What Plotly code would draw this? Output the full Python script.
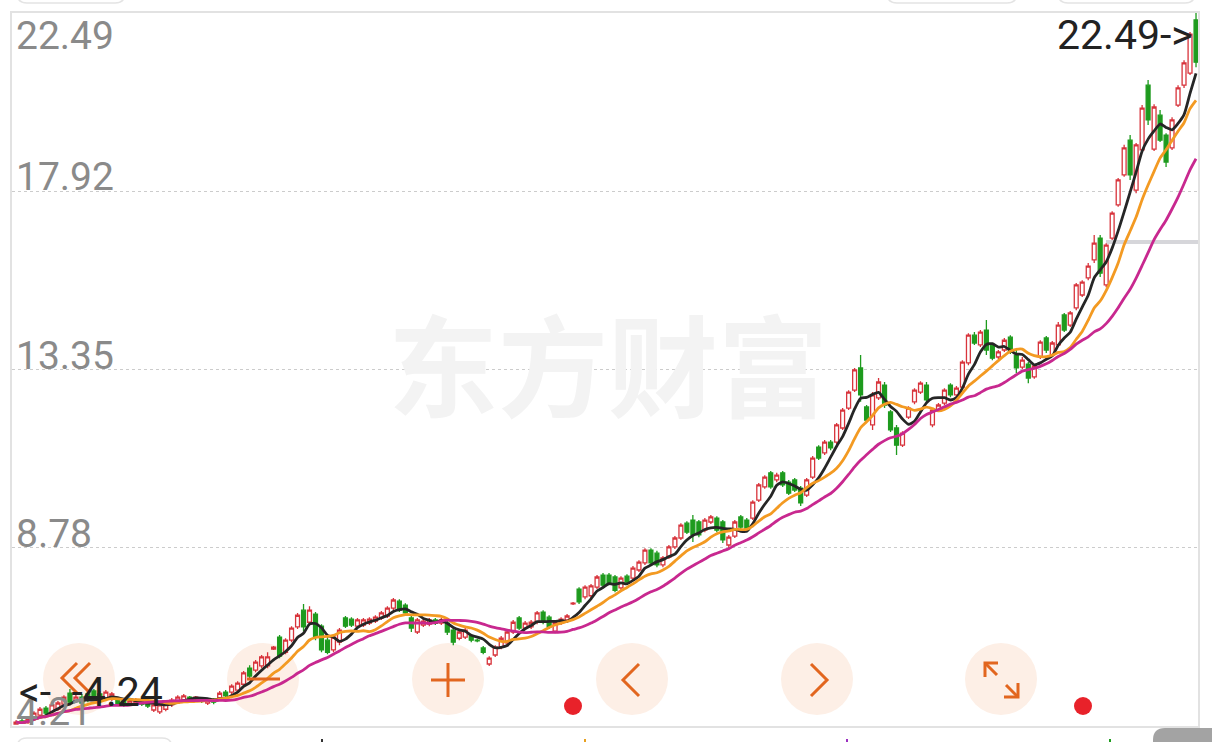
import plotly.graph_objects as go
import pandas as pd

# ---------------- data ----------------
open_ = [
4.26,4.34,4.31,4.39,4.49,4.67,4.57,4.64,4.77,5.05,
4.85,4.95,5.03,5.11,5.03,4.93,4.90,4.90,4.87,4.80,
4.80,4.87,4.82,4.62,4.57,4.64,4.75,4.85,4.87,4.95,
4.90,4.93,4.80,4.90,4.93,5.08,5.08,5.13,5.28,5.69,
5.64,5.75,5.75,6.18,6.49,6.10,6.41,6.75,7.18,6.87,
7.08,6.77,6.41,6.16,6.36,6.98,6.95,6.77,6.80,6.85,
6.90,6.98,7.03,7.23,7.41,7.31,6.98,6.62,6.80,6.82,
6.93,6.85,6.85,6.67,6.46,6.49,6.52,6.41,6.21,5.80,
6.03,6.23,6.34,6.62,6.98,6.72,6.75,6.87,7.13,7.00,
6.64,6.85,6.93,7.34,7.72,7.52,7.55,7.77,8.08,8.08,
8.03,7.75,8.05,8.00,8.21,8.39,8.72,8.64,8.34,8.54,
8.80,9.03,9.41,9.49,9.44,9.23,9.44,9.54,9.44,8.85,
9.08,9.57,9.49,9.54,10.00,10.34,10.70,10.52,10.70,10.46,
10.52,10.31,10.13,10.59,11.36,11.21,11.49,11.49,11.85,12.36,
12.82,13.39,12.39,11.93,12.62,12.95,12.26,11.85,11.41,12.13,
12.52,12.77,12.95,11.93,12.31,12.49,12.95,12.70,12.90,13.52,
14.23,13.98,14.36,13.98,13.67,13.85,14.18,13.72,13.41,13.49,
13.16,13.67,14.16,13.72,13.98,14.75,14.49,14.93,15.26,15.70,
16.16,16.72,15.52,16.72,17.57,18.34,19.23,17.95,18.98,20.64,
19.00,19.87,19.36,19.03,20.13,20.64,20.95,22.31]

high = [
4.36,4.39,4.41,4.59,4.70,4.72,4.80,4.85,5.00,5.16,
5.03,5.03,5.08,5.16,5.11,5.13,5.08,4.95,4.93,4.93,
4.93,4.93,4.87,4.80,4.80,4.82,4.93,5.00,5.03,4.98,
4.98,4.95,4.93,4.93,5.11,5.13,5.28,5.36,5.62,5.77,
5.90,6.03,6.10,6.26,6.54,6.46,6.77,7.11,7.34,7.28,
7.13,6.82,6.49,6.54,6.72,7.03,7.00,6.98,6.98,7.00,
7.05,7.16,7.28,7.49,7.46,7.36,7.05,6.98,6.95,6.98,
6.98,6.98,6.90,6.72,6.67,6.72,6.57,6.44,6.26,6.00,
6.28,6.52,6.67,6.93,7.03,6.90,6.93,7.16,7.18,7.05,
6.93,7.00,7.08,7.39,7.77,7.82,7.85,8.08,8.13,8.13,
8.08,8.05,8.10,8.31,8.46,8.77,8.77,8.70,8.57,8.85,
9.08,9.41,9.46,9.62,9.49,9.54,9.62,9.59,9.49,9.11,
9.49,9.62,9.54,10.00,10.44,10.64,10.75,10.70,10.75,10.52,
10.57,10.36,10.57,11.13,11.41,11.54,11.54,11.98,12.36,12.82,
13.39,13.72,12.44,12.77,13.13,13.03,12.31,11.93,11.77,12.41,
12.87,13.05,13.03,12.36,12.49,12.87,13.00,12.93,13.59,14.28,
14.31,14.36,14.62,14.03,13.85,14.16,14.23,13.85,13.67,13.54,
13.49,14.10,14.21,14.08,14.57,14.80,14.85,15.57,15.64,16.08,
16.80,16.80,16.59,17.41,18.26,19.11,19.36,19.16,20.13,20.77,
20.15,20.00,19.41,19.82,20.64,21.28,22.00,22.49]

low = [
4.24,4.26,4.26,4.34,4.44,4.49,4.52,4.59,4.72,4.77,
4.80,4.77,4.82,4.87,4.82,4.87,4.85,4.72,4.70,4.75,
4.77,4.72,4.67,4.57,4.52,4.59,4.70,4.80,4.82,4.85,
4.85,4.80,4.75,4.77,4.87,4.93,5.03,5.08,5.23,5.44,
5.59,5.69,5.69,6.16,5.95,6.05,6.36,6.70,6.64,6.82,
6.41,6.10,6.05,6.10,6.28,6.72,6.75,6.72,6.75,6.80,
6.85,6.93,6.98,7.18,7.13,7.05,6.62,6.57,6.75,6.77,
6.80,6.80,6.54,6.28,6.41,6.44,6.36,6.36,6.05,5.75,
5.98,6.18,6.28,6.57,6.67,6.67,6.70,6.82,6.82,6.70,
6.59,6.80,6.87,7.31,7.34,7.46,7.49,7.72,7.77,7.82,
7.64,7.69,7.85,7.95,8.16,8.34,8.34,8.28,8.28,8.49,
8.75,8.98,9.13,8.93,9.05,9.18,9.39,9.18,8.90,8.77,
9.03,9.26,9.18,9.49,9.95,10.29,10.29,10.46,10.34,10.13,
10.21,9.85,10.08,10.54,11.03,11.16,11.28,11.44,11.80,12.31,
12.77,12.52,12.00,11.80,12.57,12.36,11.75,11.16,11.36,12.08,
12.46,12.72,12.49,11.87,12.26,12.44,12.64,12.64,12.85,13.46,
13.98,13.93,13.72,13.59,13.62,13.80,13.75,13.26,13.36,13.00,
13.11,13.62,13.77,13.67,13.93,14.31,14.44,14.87,15.21,15.64,
16.08,15.72,15.46,16.67,17.52,18.29,18.21,17.87,18.93,19.62,
18.95,19.18,18.54,18.98,20.08,20.57,20.90,21.10]

close = [
4.31,4.28,4.39,4.54,4.64,4.54,4.75,4.80,4.95,4.82,
4.95,4.80,4.87,4.93,4.87,5.08,5.03,4.77,4.75,4.87,
4.87,4.77,4.72,4.75,4.75,4.77,4.87,4.95,4.98,4.90,
4.95,4.85,4.87,4.82,5.05,4.98,5.23,5.31,5.57,5.49,
5.85,5.98,5.98,6.23,6.00,6.41,6.72,7.05,6.75,7.18,
6.49,6.16,6.10,6.49,6.67,6.77,6.80,6.93,6.93,6.95,
7.00,7.11,7.23,7.44,7.18,7.11,6.72,6.93,6.90,6.93,
6.85,6.93,6.62,6.36,6.62,6.67,6.41,6.39,6.10,5.95,
6.23,6.46,6.62,6.87,6.72,6.85,6.87,7.11,6.87,6.75,
6.87,6.95,7.03,7.36,7.39,7.77,7.80,8.03,7.82,7.87,
7.69,8.00,7.90,8.26,8.41,8.72,8.39,8.34,8.52,8.80,
9.03,9.36,9.18,9.11,9.11,9.49,9.57,9.23,8.98,9.05,
9.44,9.31,9.23,9.95,10.39,10.59,10.34,10.64,10.39,10.18,
10.26,9.93,10.52,11.08,11.08,11.49,11.34,11.93,12.31,12.77,
13.34,12.70,12.05,12.70,13.03,12.44,11.80,11.41,11.72,12.36,
12.82,13.00,12.57,12.31,12.44,12.82,12.70,12.87,13.54,14.23,
14.03,14.31,13.85,13.64,13.80,14.10,13.80,13.39,13.59,13.13,
13.44,14.05,13.85,14.03,14.49,14.36,14.80,15.52,15.59,16.00,
16.59,15.82,16.54,17.36,18.21,19.03,18.34,19.11,20.05,19.75,
20.08,19.23,18.67,19.75,20.57,21.21,21.95,21.23]

y_labels = [22.49, 17.92, 13.35, 8.78, 4.21]
ma_periods = [5, 10, 20]
watermark = "东方财富"

# ---------------- styles ----------------
RED = "#d8343c"
GREEN = "#1e9b1e"
MA_COLORS = {5: "#262626", 10: "#f39a22", 20: "#c8288f"}
ORANGE = "#e2661f"
PEACH = "#fdefe6"

n = len(close)
idx = list(range(n))
cs = pd.Series(close)

fig = go.Figure()
fig.add_trace(go.Candlestick(
    x=idx, open=open_, high=high, low=low, close=close,
    increasing=dict(line=dict(color=RED, width=1.3), fillcolor="white"),
    decreasing=dict(line=dict(color=GREEN, width=1.3), fillcolor=GREEN),
    whiskerwidth=0, hoverinfo="skip", showlegend=False,
))
for p in ma_periods:
    fig.add_trace(go.Scatter(
        x=idx, y=cs.rolling(p, min_periods=1).mean(), mode="lines",
        line=dict(color=MA_COLORS[p], width=2.8, shape="spline", smoothing=0.6),
        hoverinfo="skip", showlegend=False,
    ))

W, H = 1212, 742
L, R, T, B = 12, 1198, 13, 726


def px(x):
    return (x - L) / (R - L)


def py(y):
    return 1 - (y - T) / (B - T)


LABEL_FONT = dict(family="Roboto", size=39, color="#8a8a8a")
ann = []
# y labels
for v in y_labels:
    if v == max(y_labels):
        ann.append(dict(x=0, xref="paper", y=v, yref="y", text=f"{v:.2f}",
                        xanchor="left", yanchor="top", xshift=2, yshift=2,
                        showarrow=False, font=LABEL_FONT))
    else:
        ann.append(dict(x=0, xref="paper", y=v, yref="y", text=f"{v:.2f}",
                        xanchor="left", yanchor="bottom", xshift=2, yshift=-11,
                        showarrow=False, font=LABEL_FONT))

imax = high.index(max(high))
imin = low.index(min(low))
ann.append(dict(x=imax, xref="x", y=high[imax], yref="y", text=f"{high[imax]:.2f}->",
                xanchor="right", yanchor="middle", xshift=-1, yshift=-22, showarrow=False,
                font=dict(family="Roboto", size=41, color="#222222")))
ann.append(dict(x=imin, xref="x", y=low[imin], yref="y", text=f"<-  -{low[imin]:.2f}",
                xanchor="left", yanchor="middle", xshift=1, yshift=33, showarrow=False,
                font=dict(family="Roboto", size=41, color="#222222")))
# watermark
ann.append(dict(x=px(608), xref="paper", y=py(361), yref="paper", text=watermark,
                showarrow=False, xanchor="center", yanchor="middle",
                font=dict(family="Noto Sans CJK SC", size=110, color="#f3f3f3", weight="bold")))

shapes = []
# price marker line
shapes.append(dict(type="line", xref="paper", yref="y", x0=px(1106), x1=1, y0=16.62, y1=16.62,
                   line=dict(color="#d6d6da", width=4), layer="below"))
# buttons
centers = [79, 263, 448, 632, 817, 1001]
cy = 679
for cx in centers:
    shapes.append(dict(type="circle", xref="paper", yref="paper",
                       x0=px(cx - 36), x1=px(cx + 36), y0=py(cy + 36), y1=py(cy - 36),
                       fillcolor=PEACH, line=dict(width=0), layer="below"))


def path(pts):
    return "M " + " L ".join(f"{px(a):.5f},{py(b):.5f}" for a, b in pts)


icon_paths = [
    [(77, 663), (62, 678), (77, 693)],
    [(90, 663), (75, 678), (90, 693)],
    [(247, 679), (280, 679)],
    [(431, 680), (465, 680)],
    [(448, 663), (448, 697)],
    [(639, 664), (623, 680), (639, 696)],
    [(811, 664), (827, 680), (811, 696)],
    [(985, 677), (985, 663), (998, 663)],
    [(985, 663), (997, 675)],
    [(1018, 683), (1018, 697), (1004, 697)],
    [(1018, 697), (1006, 685)],
]
for pts in icon_paths:
    shapes.append(dict(type="path", xref="paper", yref="paper", path=path(pts),
                       line=dict(color=ORANGE, width=3), layer="above"))
# red dots
for dx in [573, 1083]:
    shapes.append(dict(type="circle", xref="paper", yref="paper",
                       x0=px(dx - 9), x1=px(dx + 9), y0=py(706 + 9), y1=py(706 - 9),
                       fillcolor="#e8222a", line=dict(width=0), layer="above"))


def rrect(x0, x1, y0, y1, r):
    return ("M {a},{b} L {c},{b} Q {d},{b} {d},{e} L {d},{f} Q {d},{g} {c},{g} "
            "L {a},{g} Q {h},{g} {h},{f} L {h},{e} Q {h},{b} {a},{b} Z").format(
        a=f"{px(x0 + r):.5f}", b=f"{py(y0):.5f}", c=f"{px(x1 - r):.5f}", d=f"{px(x1):.5f}",
        e=f"{py(y0 + r):.5f}", f=f"{py(y1 - r):.5f}", g=f"{py(y1):.5f}", h=f"{px(x0):.5f}")


# partial UI elements at the top / bottom edges
for x0, x1 in [(17, 125), (887, 1017), (1058, 1195)]:
    shapes.append(dict(type="path", xref="paper", yref="paper", path=rrect(x0, x1, -30, 3, 10),
                       line=dict(color="#e4e4e4", width=1.5), layer="above"))
shapes.append(dict(type="path", xref="paper", yref="paper", path=rrect(17, 172, 738, 770, 10),
                   line=dict(color="#e4e4e4", width=1.5), layer="above"))
shapes.append(dict(type="path", xref="paper", yref="paper", path=rrect(1153, 1240, 728, 770, 12),
                   fillcolor="#a3a3a3", line=dict(width=0), layer="above"))
for tx, col in [(322, "#333333"), (585, "#e8a020"), (847, "#9b30c0"), (1110, "#1f9d1f")]:
    shapes.append(dict(type="line", xref="paper", yref="paper", x0=px(tx), x1=px(tx),
                       y0=py(739), y1=py(742), line=dict(color=col, width=2), layer="above"))

fig.update_layout(
    width=W, height=H,
    margin=dict(l=L, r=W - R, t=T, b=H - B),
    paper_bgcolor="white", plot_bgcolor="white",
    annotations=ann, shapes=shapes,
    showlegend=False,
    boxgap=0.35, boxgroupgap=0,
    xaxis=dict(range=[-0.67, n - 1 + 0.33], showticklabels=False, showgrid=False, zeroline=False,
               showline=True, mirror=True, linecolor="#e2e2e2", linewidth=2,
               rangeslider=dict(visible=False), fixedrange=True),
    yaxis=dict(range=[min(y_labels), max(y_labels)], tickvals=y_labels[1:-1], showticklabels=False,
               showgrid=True, gridcolor="#cccccc", griddash="dot", gridwidth=1, zeroline=False,
               showline=True, mirror=True, linecolor="#e2e2e2", linewidth=2, ticks="", fixedrange=True),
)

fig.write_html("out.html", config={"displayModeBar": False},
               post_script="document.body.style.margin='0';document.body.style.overflow='hidden';")
